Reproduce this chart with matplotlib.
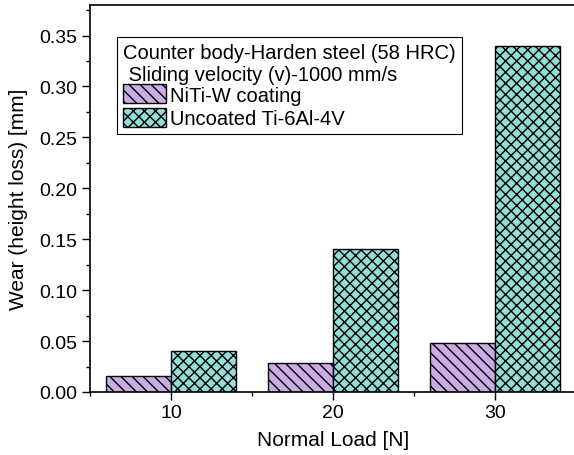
import numpy as np
import matplotlib
matplotlib.use('Agg')
import matplotlib.pyplot as plt
from matplotlib.ticker import MultipleLocator

plt.rcParams['font.family'] = ['Liberation Sans', 'DejaVu Sans']
plt.rcParams['hatch.linewidth'] = 1.0

## Data
loads = [10, 20, 30]  # Normal load [N]
niti_w = [0.016, 0.028, 0.048]  # NiTi-W coating wear [mm]
uncoated = [0.040, 0.140, 0.340]  # Uncoated Ti-6Al-4V wear [mm]
series_names = ['NiTi-W coating', 'Uncoated Ti-6Al-4V']
legend_title = 'Counter body-Harden steel (58 HRC)\n Sliding velocity (v)-1000 mm/s'

bar_width = 4

fig = plt.figure(figsize=(5.74, 4.56), dpi=100)
ax = fig.add_axes([90/574, 63/456, 486/574, 387/456])

ax.bar(loads, niti_w, width=bar_width, align='edge', color='#c8ace3',
       edgecolor='black', linewidth=1.0, hatch='\\\\\\', label=series_names[0])
ax.bar(np.array(loads), uncoated, width=bar_width, align='edge', color='#94ddd6',
       edgecolor='black', linewidth=1.0, hatch='xxx', label=series_names[1])
# shift coating bars to the left side of the tick
for p in ax.patches[:len(loads)]:
    p.set_x(p.get_x() - bar_width)

ax.set_xlim(5, 35)
ax.set_ylim(0, 0.38)
ax.xaxis.set_major_locator(MultipleLocator(10))
ax.xaxis.set_minor_locator(MultipleLocator(5))
ax.yaxis.set_major_locator(MultipleLocator(0.05))
ax.yaxis.set_minor_locator(MultipleLocator(0.025))
ax.yaxis.set_major_formatter(matplotlib.ticker.FormatStrFormatter('%.2f'))
ax.tick_params(which='both', direction='out', width=1, labelsize=14)
ax.tick_params(which='major', length=6, pad=3)
ax.tick_params(which='minor', length=3)
ax.spines['right'].set_visible(False)
for s in ['left', 'bottom', 'top']:
    ax.spines[s].set_linewidth(1.2)

ax.set_xlabel('Normal Load [N]', fontsize=15, labelpad=6)
ax.set_ylabel('Wear (height loss) [mm]', fontsize=15, labelpad=8)

leg = ax.legend(title=legend_title, loc='upper left', bbox_to_anchor=(27/486, 0.917),
                fontsize=14.5, title_fontsize=14.5, frameon=True, fancybox=False,
                edgecolor='black', framealpha=1, borderpad=0.3, labelspacing=0.15,
                handlelength=2.15, handleheight=1.1, handletextpad=0.2,
                borderaxespad=0, alignment='left')
leg.get_frame().set_linewidth(0.8)
leg._legend_box.sep = 0

fig.savefig('out.png', dpi=100)
